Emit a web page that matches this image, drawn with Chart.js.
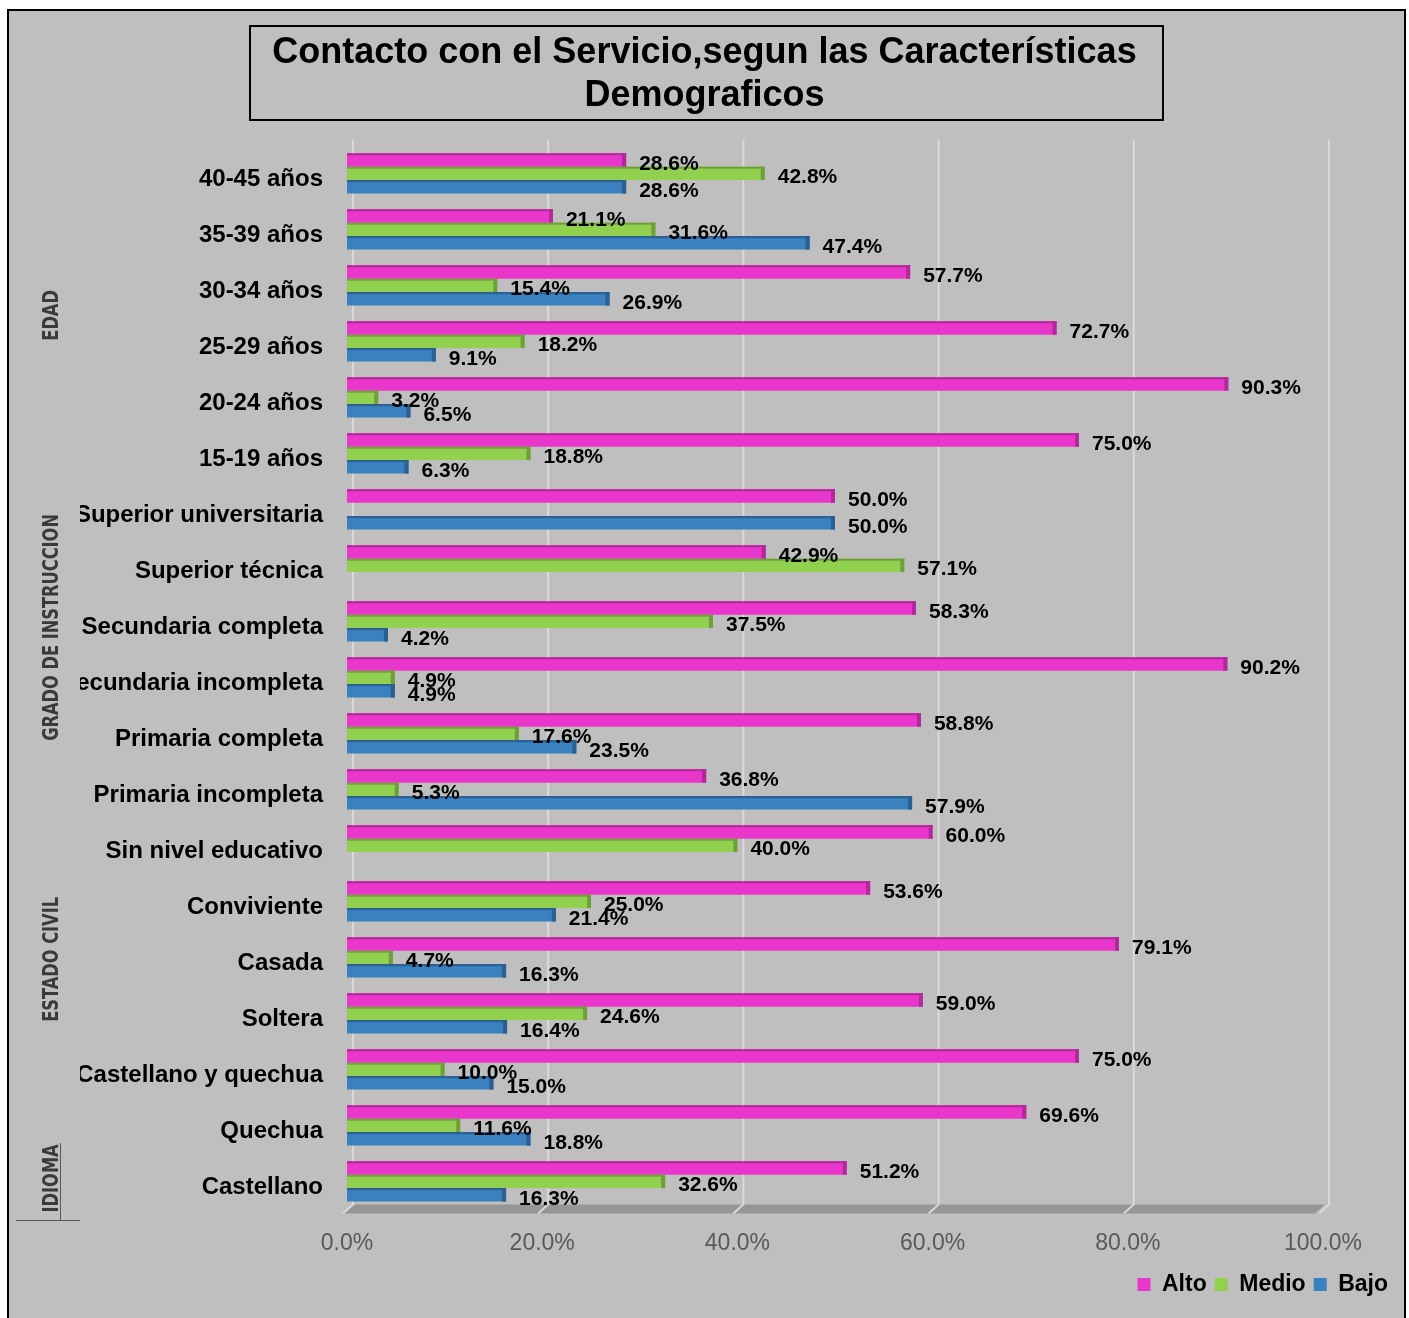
<!DOCTYPE html>
<html>
<head>
<meta charset="utf-8">
<title>Contacto con el Servicio</title>
<script src="https://cdn.jsdelivr.net/npm/chart.js@4.4.1/dist/chart.umd.min.js"></script>
<style>
  html, body { margin: 0; padding: 0; background: #fff; }
</style>
</head>
<body>
<canvas id="contactChart" width="1409" height="1318"></canvas>
<script>
// Data
var categories = [
    '40-45 años', '35-39 años', '30-34 años', '25-29 años', '20-24 años', '15-19 años',
    'Superior universitaria', 'Superior técnica', 'Secundaria completa', 'Secundaria incompleta',
    'Primaria completa', 'Primaria incompleta', 'Sin nivel educativo',
    'Conviviente', 'Casada', 'Soltera',
    'Castellano y quechua', 'Quechua', 'Castellano'
];
var alto  = [28.6, 21.1, 57.7, 72.7, 90.3, 75.0, 50.0, 42.9, 58.3, 90.2, 58.8, 36.8, 60.0, 53.6, 79.1, 59.0, 75.0, 69.6, 51.2];
var medio = [42.8, 31.6, 15.4, 18.2, 3.2, 18.8, null, 57.1, 37.5, 4.9, 17.6, 5.3, 40.0, 25.0, 4.7, 24.6, 10.0, 11.6, 32.6];
var bajo  = [28.6, 47.4, 26.9, 9.1, 6.5, 6.3, 50.0, null, 4.2, 4.9, 23.5, 57.9, null, 21.4, 16.3, 16.4, 15.0, 18.8, 16.3];
var seriesNames = ['Alto', 'Medio', 'Bajo'];
var xTicks = [0, 20, 40, 60, 80, 100];

var groupNames = ['EDAD', 'GRADO DE INSTRUCCION', 'ESTADO CIVIL', 'IDIOMA'];
var groupFirst = [0, 6, 13, 16];
var groupLast  = [5, 12, 15, 18];

// Styles
var fillColors = ['#E936CB', '#92D050', '#3B80BF'];
var edgeColors = ['#B3289B', '#6F9E3B', '#2A5F90'];
var baseFont = '"Liberation Sans", Arial, sans-serif';
var narrowFont = '"Liberation Sans Narrow", "DejaVu Sans Condensed", sans-serif';

// Background, outer border and title frame
var frame = {
    id: 'frame',
    beforeDraw: function (chart) {
        var ctx = chart.ctx;
        ctx.save();
        ctx.fillStyle = '#fff';
        ctx.fillRect(0, 0, chart.width, chart.height);
        ctx.fillStyle = '#BFBFBF';
        ctx.fillRect(8, 10, 1397, 1320);
        ctx.strokeStyle = '#000';
        ctx.lineWidth = 2;
        ctx.strokeRect(8, 10, 1397, 1320);
        ctx.strokeRect(250, 26, 913, 94);
        ctx.restore();
    },
    afterLayout: function (chart) {
        // title centred on the whole sheet, legend pushed to the lower right corner
        chart.titleBlock.left = 0;
        chart.titleBlock.right = chart.width;
        chart.legend.right = chart.width - 13;
        chart.legend.top -= 12;
        chart.legend.bottom -= 12;
    }
};

// Back grid lines and floor (drawn a bit to the right, like the 3D back wall)
var backWall = {
    id: 'backWall',
    beforeDatasetsDraw: function (chart) {
        var ctx = chart.ctx, x = chart.scales.x, area = chart.chartArea;
        ctx.save();
        ctx.fillStyle = '#969696';
        ctx.beginPath();
        ctx.moveTo(x.getPixelForValue(0) + 8, area.bottom - 5);
        ctx.lineTo(x.getPixelForValue(100) + 2, area.bottom - 5);
        ctx.lineTo(x.getPixelForValue(100) - 8, area.bottom + 4);
        ctx.lineTo(x.getPixelForValue(0) - 4, area.bottom + 4);
        ctx.closePath();
        ctx.fill();

        ctx.strokeStyle = '#DADADA';
        ctx.lineWidth = 2;
        xTicks.forEach(function (v) {
            var px = x.getPixelForValue(v) + 6;
            ctx.beginPath();
            ctx.moveTo(px, area.top - 6);
            ctx.lineTo(px, area.bottom - 5);
            ctx.lineTo(px - 10, area.bottom + 4);
            ctx.stroke();
        });
        ctx.restore();
    }
};

// Bar edges, value labels, category and group labels
var labels = {
    id: 'labels',
    afterDatasetsDraw: function (chart) {
        var ctx = chart.ctx, y = chart.scales.y, area = chart.chartArea;
        ctx.save();

        chart.data.datasets.forEach(function (ds, d) {
            var meta = chart.getDatasetMeta(d);
            meta.data.forEach(function (el, i) {
                var v = ds.data[i];
                if (v === null) return;
                var p = el.getProps(['x', 'y', 'base', 'height'], true);
                var top = p.y - p.height / 2;
                ctx.fillStyle = edgeColors[d];
                ctx.fillRect(p.base, top, p.x - p.base, 2);
                ctx.fillRect(p.x - 4, top, 4, p.height);
            });
        });

        ctx.fillStyle = '#000';
        ctx.font = 'bold 21px ' + baseFont;
        ctx.textAlign = 'left';
        ctx.textBaseline = 'middle';
        chart.data.datasets.forEach(function (ds, d) {
            var meta = chart.getDatasetMeta(d);
            meta.data.forEach(function (el, i) {
                var v = ds.data[i];
                if (v === null) return;
                ctx.fillText(v.toFixed(1) + '%', el.x + 13, el.y + 4);
            });
        });

        // category labels, clipped on the left as in the original sheet
        ctx.save();
        ctx.beginPath();
        ctx.rect(80, area.top - 20, area.left, area.bottom - area.top + 40);
        ctx.clip();
        ctx.font = 'bold 24px ' + baseFont;
        ctx.textAlign = 'right';
        categories.forEach(function (c, i) {
            ctx.fillText(c, area.left - 24, y.getPixelForTick(i) + 6);
        });
        ctx.restore();

        // group labels
        var shift = [2, -50, 2, 53];
        ctx.font = 'bold 22px ' + narrowFont;
        ctx.fillStyle = '#3A3A3A';
        ctx.textAlign = 'center';
        groupNames.forEach(function (g, k) {
            var cy = (y.getPixelForTick(groupFirst[k]) + y.getPixelForTick(groupLast[k])) / 2 + shift[k];
            ctx.save();
            ctx.translate(52, cy);
            ctx.rotate(-Math.PI / 2);
            ctx.scale(0.82, 1);
            ctx.fillText(g, 0, 0);
            ctx.restore();
        });

        ctx.strokeStyle = '#595959';
        ctx.lineWidth = 1;
        ctx.beginPath();
        ctx.moveTo(16, 1220.5);
        ctx.lineTo(80, 1220.5);
        ctx.moveTo(60.5, 1143);
        ctx.lineTo(60.5, 1220);
        ctx.stroke();
        ctx.restore();
    }
};

// Chart
var ctx = document.getElementById('contactChart').getContext('2d');
var datasets = [alto, medio, bajo].map(function (values, d) {
    return {
        label: seriesNames[d],
        data: values,
        backgroundColor: fillColors[d],
        borderWidth: 0,
        categoryPercentage: 0.72,
        barPercentage: 1.0
    };
});

var chart = new Chart(ctx, {
    type: 'bar',
    data: { labels: categories, datasets: datasets },
    options: {
        indexAxis: 'y',
        responsive: false,
        animation: false,
        devicePixelRatio: 1,
        layout: { padding: { left: 347, right: 86, top: 0, bottom: 0 } },
        scales: {
            x: {
                min: 0,
                max: 100,
                grid: { display: false, drawTicks: false, tickLength: 0 },
                border: { display: false },
                ticks: {
                    stepSize: 20,
                    padding: 20,
                    color: '#595959',
                    font: { family: baseFont, size: 23 },
                    callback: function (value) { return value.toFixed(1) + '%'; }
                }
            },
            y: {
                display: false
            }
        },
        plugins: {
            title: {
                display: true,
                text: ['Contacto con el Servicio,segun las Características', 'Demograficos'],
                color: '#000',
                font: { family: baseFont, size: 36, weight: 'bold', lineHeight: 1.2 },
                padding: { top: 31, bottom: 28 }
            },
            legend: {
                position: 'bottom',
                align: 'end',
                labels: {
                    boxWidth: 13,
                    boxHeight: 13,
                    padding: 8,
                    color: '#000',
                    font: { family: baseFont, size: 23, weight: 'bold' }
                }
            },
            tooltip: { enabled: false }
        }
    },
    plugins: [frame, backWall, labels]
});
</script>
</body>
</html>
